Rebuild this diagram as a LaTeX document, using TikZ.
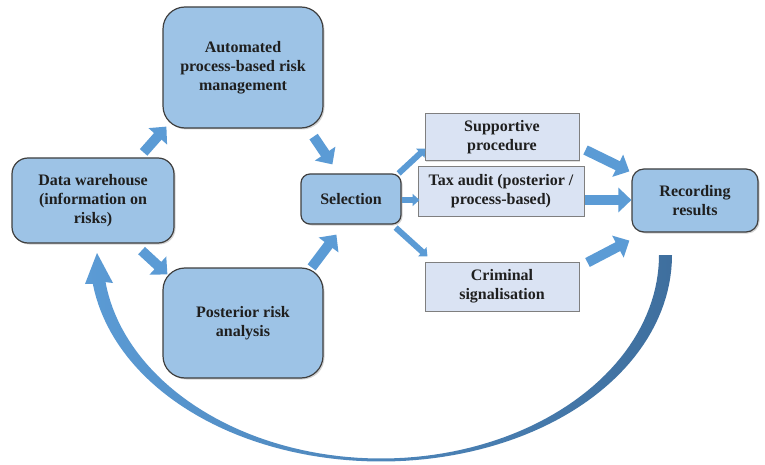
\documentclass[tikz,border=0pt]{standalone}
\usepackage{fontspec}
\setmainfont{Liberation Serif}
\usetikzlibrary{arrows.meta,calc,shadows}
\definecolor{boxblue}{HTML}{9DC3E6}
\definecolor{paleblue}{HTML}{DAE3F3}
\definecolor{arrowblue}{HTML}{5B9BD5}
\definecolor{darkarc}{HTML}{3F6F9E}
\definecolor{edge}{HTML}{3F3F3F}
\definecolor{lightedge}{HTML}{7F7F7F}
\definecolor{txt}{HTML}{1F1F1F}
\begin{document}
\begin{tikzpicture}[x=1pt,y=-1pt,
  bigbox/.style={draw=edge, line width=1.2pt, fill=boxblue, rounded corners=#1,
    align=center, text=txt, font=\bfseries\fontsize{16}{19}\selectfont, inner sep=0pt,
    drop shadow={shadow xshift=1.5pt, shadow yshift=-1.5pt, opacity=0.35}},
  bigbox/.default=15pt,
  smallbox/.style={draw=lightedge, line width=1pt, fill=paleblue,
    align=center, text=txt, font=\bfseries\fontsize{16}{19}\selectfont, inner sep=0pt,
    drop shadow={shadow xshift=1pt, shadow yshift=-1pt, opacity=0.25}},
  blockarrow/.style={draw=arrowblue, line width=10pt, -{Triangle[length=13pt,width=24pt]}},
  thinarrow/.style={draw=arrowblue, line width=6pt, -{Triangle[length=7pt,width=12pt]}}
]
\useasboundingbox (0,0) rectangle (765,465);

% nodes
\node[bigbox=16pt, minimum width=162pt, minimum height=85pt] (dw) at (93,200.5)
  {Data warehouse\\(information on\\risks)};
\node[bigbox=22pt, minimum width=160pt, minimum height=121pt] (auto) at (243,67.5)
  {Automated\\process-based risk\\management};
\node[bigbox=22pt, minimum width=160pt, minimum height=110pt] (post) at (243,323)
  {Posterior risk\\analysis};
\node[bigbox=9pt, minimum width=100pt, minimum height=50pt] (sel) at (351,199)
  {Selection};
\node[bigbox=12pt, minimum width=126pt, minimum height=63pt] (rec) at (695,200.5)
  {Recording\\results};
\node[smallbox, minimum width=154pt, minimum height=47pt] (sup) at (502,137.5)
  {Supportive\\procedure};
\node[smallbox, minimum width=166pt, minimum height=49pt] (tax) at (501,191.5)
  {Tax audit (posterior /\\process-based)};
\node[smallbox, minimum width=154pt, minimum height=49pt] (crim) at (502,286.5)
  {Criminal\\signalisation};

% block arrows
\draw[blockarrow] ($(dw.north east)+(-31,-5)$) -- ($(auto.south west)+(4,-2)$);
\draw[blockarrow] ($(auto.south east)+(-10,8)$) -- ($(sel.north west)+(32,-9)$);
\draw[blockarrow] ($(dw.south east)+(-33,7)$) -- ($(post.north west)+(5,7)$);
\draw[blockarrow] ($(post.north east)+(-12,0)$) -- ($(sel.south west)+(36,10)$);
\draw[blockarrow] ($(sup.east)+(6,12.5)$) -- ($(rec.north west)+(-2,3)$);
\draw[blockarrow] ($(tax.east)+(0,8.5)$) -- ($(rec.west)+(0,-0.5)$);
\draw[blockarrow] ($(crim.north east)+(8,1)$) -- ($(rec.south west)+(-2,8)$);

% thin arrows
\draw[thinarrow] ($(sel.north east)+(-3,0)$) -- ($(sup.south west)+(1,-13)$);
\draw[thinarrow] ($(sel.east)+(0,1)$) -- ($(tax.west)+(2,8.5)$);
\draw[thinarrow] ($(sel.south east)+(-6,3)$) -- ($(crim.north west)+(3,-5)$);

% big curved return arrow
\path[left color=arrowblue, right color=darkarc]
  plot[domain=0:172.15, samples=90, variable=\t]
    ({381+(286+5*pow(cos(\t),2))*cos(\t)}, {255+(206.5+5*pow(cos(\t),2))*sin(\t)})
  -- (85,284) -- (97,253) -- (113,283)
  -- plot[domain=172.15:0, samples=90, variable=\t]
    ({381+(283-5*pow(cos(\t),2))*cos(\t)}, {255+(203.5-5*pow(cos(\t),2))*sin(\t)})
  -- cycle;
\end{tikzpicture}
\end{document}
